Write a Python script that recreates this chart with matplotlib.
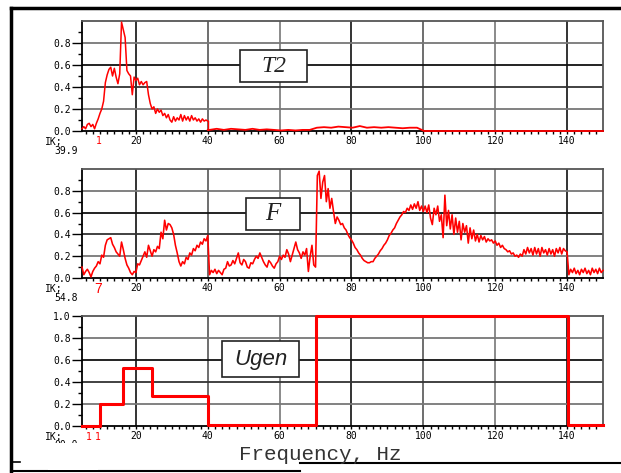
import numpy as np
import matplotlib.pyplot as plt
from matplotlib.lines import Line2D
from matplotlib.patches import Rectangle

W, H = 621, 473  # pixel size of the picture

# ---- data ----
# T2: fine part 5..40 Hz every 0.5 Hz
t2_f = np.arange(5.0, 40.01, 0.5)
t2_v = [0.02, 0.04, 0.02, 0.06, 0.07, 0.04, 0.06, 0.02, 0.07, 0.11,
        0.16, 0.20, 0.27, 0.44, 0.51, 0.56, 0.58, 0.50, 0.57, 0.49,
        0.43, 0.52, 0.99, 0.92, 0.85, 0.55, 0.52, 0.50, 0.33, 0.49,
        0.46, 0.48, 0.42, 0.45, 0.42, 0.44, 0.45, 0.33, 0.25, 0.20,
        0.22, 0.16, 0.20, 0.17, 0.19, 0.14, 0.16, 0.12, 0.15, 0.10,
        0.08, 0.13, 0.09, 0.12, 0.10, 0.15, 0.09, 0.14, 0.10, 0.13,
        0.09, 0.14, 0.10, 0.12, 0.09, 0.11, 0.08, 0.11, 0.09, 0.10,
        0.09]
# T2: coarse part 40.5..150 Hz
t2_tail_f = np.linspace(40.5, 150.0, 56)
t2_tail_v = [0.01, 0.02, 0.01, 0.02, 0.015, 0.01, 0.02, 0.01, 0.015, 0.01,
             0.005, 0.01, 0.005, 0.01, 0.01,
             0.03, 0.035, 0.03, 0.04, 0.035, 0.03, 0.045, 0.03, 0.035, 0.03,
             0.035, 0.03, 0.025, 0.03, 0.03,
             0.0, 0.0, 0.0, 0.0, 0.0, 0.0, 0.0, 0.0, 0.0, 0.0,
             0.0, 0.0, 0.0, 0.0, 0.0, 0.0, 0.0, 0.0, 0.0, 0.0,
             0.0, 0.0, 0.0, 0.0, 0.0, 0.0]

# F: 5..150 Hz every 0.5 Hz
f_f = np.arange(5.0, 150.01, 0.5)
f_v = [0.10, 0.03, 0.06, 0.08, 0.05, 0.01, 0.06, 0.09, 0.11, 0.15,
       0.13, 0.21, 0.19, 0.30, 0.35, 0.36, 0.37, 0.31, 0.28, 0.24,
       0.22, 0.20, 0.33, 0.26, 0.18, 0.12, 0.09, 0.05, 0.03, 0.06,
       0.05, 0.13, 0.12, 0.16, 0.20, 0.24, 0.19, 0.30, 0.25, 0.20,
       0.26, 0.24, 0.29, 0.27, 0.42, 0.36, 0.53, 0.44, 0.50, 0.49,
       0.46, 0.40, 0.30, 0.23, 0.15, 0.11, 0.15, 0.13, 0.19, 0.17,
       0.23, 0.21, 0.27, 0.25, 0.30, 0.28, 0.33, 0.31, 0.36, 0.34,
       0.39, 0.03, 0.07, 0.05, 0.08, 0.04, 0.07, 0.05, 0.03, 0.08,
       0.09, 0.15, 0.11, 0.12, 0.16, 0.13, 0.18, 0.23, 0.14, 0.12,
       0.17, 0.15, 0.10, 0.09, 0.14, 0.13, 0.17, 0.20, 0.18, 0.23,
       0.19, 0.15, 0.12, 0.10, 0.16, 0.14, 0.11, 0.09, 0.13, 0.15,
       0.20, 0.17, 0.21, 0.19, 0.26, 0.22, 0.15, 0.21, 0.27, 0.33,
       0.26, 0.23, 0.18, 0.24, 0.21, 0.27, 0.06, 0.20, 0.30, 0.12,
       0.10, 0.94, 0.98, 0.73, 0.88, 0.94, 0.70, 0.82, 0.64, 0.73,
       0.61, 0.50, 0.56, 0.53, 0.49, 0.50, 0.46, 0.44, 0.40, 0.37,
       0.35, 0.32, 0.28, 0.26, 0.23, 0.21, 0.18, 0.16, 0.15, 0.14,
       0.14, 0.15, 0.15, 0.18, 0.20, 0.22, 0.25, 0.27, 0.30, 0.32,
       0.35, 0.39, 0.41, 0.44, 0.46, 0.50, 0.53, 0.56, 0.58, 0.61,
       0.60, 0.64, 0.62, 0.67, 0.63, 0.68, 0.64, 0.70, 0.62, 0.66,
       0.61, 0.66, 0.60, 0.67, 0.55, 0.49, 0.64, 0.58, 0.66, 0.52,
       0.58, 0.37, 0.76, 0.48, 0.62, 0.45, 0.58, 0.40, 0.55, 0.42,
       0.52, 0.35, 0.50, 0.42, 0.48, 0.32, 0.46, 0.36, 0.44, 0.34,
       0.40, 0.33, 0.39, 0.35, 0.38, 0.33, 0.36, 0.34, 0.35, 0.32,
       0.34, 0.30, 0.32, 0.28, 0.30, 0.27, 0.26, 0.24, 0.25, 0.22,
       0.23, 0.20, 0.21, 0.19, 0.22, 0.20, 0.26, 0.22, 0.28, 0.23,
       0.27, 0.21, 0.28, 0.22, 0.27, 0.20, 0.28, 0.23, 0.26, 0.21,
       0.27, 0.22, 0.26, 0.20, 0.27, 0.23, 0.28, 0.22, 0.27, 0.25,
       0.24, 0.03, 0.08, 0.05, 0.09, 0.04, 0.07, 0.03, 0.08, 0.05,
       0.09, 0.04, 0.07, 0.03, 0.09, 0.05, 0.08, 0.04, 0.09, 0.05,
       0.07]

# Ugen: step levels between edges
ugen_edges = [5, 10, 16.3, 24.5, 40, 70.1, 140.2, 150]
ugen_levels = [0.0, 0.2, 0.53, 0.27, 0.01, 1.0, 0.01]

xticks = [20, 40, 60, 80, 100, 120, 140]
yticks = [0.0, 0.2, 0.4, 0.6, 0.8]
yticks3 = [0.0, 0.2, 0.4, 0.6, 0.8, 1.0]

mono = 'DejaVu Sans Mono'


def fx(x):
    return x / W


def fy(y):
    return 1 - y / H


fig = plt.figure(figsize=(W / 100, H / 100), dpi=100)

# axes boxes in pixels: top, bottom
rows = [(21, 131), (169, 278), (316, 426)]
axs = []
for top, bot in rows:
    ax = fig.add_axes([fx(82), fy(bot), (603 - 82) / W, (bot - top) / H])
    axs.append(ax)

for i, ax in enumerate(axs):
    ax.set_xlim(5, 150)
    ax.set_ylim(0, 1)
    for k, xv in enumerate(xticks):
        ax.axvline(xv, color=['#111', '#555', '#777', '#111', '#555', '#777', '#111'][k], lw=1.2, zorder=1)
    for k, yv in enumerate([0.2, 0.4, 0.6, 0.8]):
        ax.axhline(yv, color=['#777', '#333', '#111', '#777'][k], lw=1.3, zorder=1)
    ax.set_xticks(xticks)
    ax.set_xticks(np.arange(6, 150, 2), minor=True)
    yt = yticks3 if i == 2 else yticks
    ax.set_yticks(yt)
    ax.set_yticklabels(['%.1f' % v for v in yt])
    ax.set_yticks(np.arange(0.1, 1.0, 0.2), minor=True)
    ax.tick_params(axis='y', which='major', length=7, width=1, direction='out', pad=1,
                   labelsize=7, labelfontfamily=mono)
    ax.tick_params(axis='y', which='minor', length=3, width=1)
    ax.tick_params(axis='x', which='both', length=2.5, width=1, direction='out', pad=1,
                   labelsize=7, labelfontfamily=mono)
    for s in ['left', 'bottom']:
        ax.spines[s].set_color('black')
        ax.spines[s].set_linewidth(1.3)
    for s in ['top', 'right']:
        ax.spines[s].set_color('#555')
        ax.spines[s].set_linewidth(1.3)

# curves
axs[0].plot(t2_f, t2_v, color='red', lw=1.1, zorder=3, clip_on=False)
axs[0].plot(np.r_[t2_f[-1], t2_tail_f], np.r_[0.01, t2_tail_v], color='red', lw=1.3, zorder=3, clip_on=False)
axs[0].plot([40, 40], [t2_v[-1], 0.01], color='red', lw=1, zorder=3)
axs[1].plot(f_f, f_v, color='red', lw=1.15, zorder=3, clip_on=False)
axs[2].step(ugen_edges, ugen_levels + [ugen_levels[-1]], where='post', color='red', lw=2.2,
            zorder=3, clip_on=False)

# title boxes (pixel centers and sizes)
boxes = [('T2', 273.5, 66, 67, 32, 'Liberation Serif', 17),
         ('F', 273, 214, 54, 32, 'Liberation Serif', 18),
         ('Ugen', 260.5, 359, 77, 36, 'Liberation Sans', 16)]
for txt, cx, cy, bw, bh, fam, size in boxes:
    fig.patches.append(Rectangle((fx(cx - bw / 2), fy(cy + bh / 2)), bw / W, bh / H,
                                 transform=fig.transFigure, facecolor='white',
                                 edgecolor='#222', lw=1.2, zorder=5))
    fig.text(fx(cx), fy(cy), txt, family=fam, style='italic', size=size,
             ha='center', va='center', color='#222', zorder=6)

# small labels under each panel
small = dict(family=mono, size=7, color='black', va='center', ha='left')
fig.text(fx(45), fy(142), 'IK;', **small)
fig.text(fx(54), fy(151), '39.9', **small)
fig.text(fx(96), fy(141), '1', family=mono, size=7, color='red', va='center', ha='left')
fig.text(fx(45), fy(289), 'IK;', **small)
fig.text(fx(54), fy(298), '54.8', **small)
fig.text(fx(94), fy(289), '7', family='Liberation Sans', size=10, color='red', va='center', ha='left')
fig.text(fx(45), fy(437), 'IK:', **small)
fig.text(fx(54), fy(445), '00.0', **small)
fig.patches.append(Rectangle((fx(48), fy(470)), 50 / W, 27 / H, transform=fig.transFigure,
                             facecolor='white', edgecolor='none', zorder=4))
fig.text(fx(86), fy(437), '1', family=mono, size=7, color='red', va='center', ha='left')
fig.text(fx(95), fy(437), '1', family=mono, size=7, color='red', va='center', ha='left')

# x label
fig.text(fx(320), fy(460), 'Frequency, Hz', family='Liberation Mono', size=15,
         ha='center', va='baseline', color='#333')

# outer frame
fig.lines.append(Line2D([fx(11), fx(621)], [fy(8), fy(8)], transform=fig.transFigure, color='black', lw=2.5))
fig.lines.append(Line2D([fx(11), fx(11)], [fy(8), fy(473)], transform=fig.transFigure, color='black', lw=2.5))
fig.lines.append(Line2D([fx(11), fx(300)], [fy(471), fy(471)], transform=fig.transFigure, color='black', lw=1.5))
fig.lines.append(Line2D([fx(300), fx(621)], [fy(463), fy(463)], transform=fig.transFigure, color='black', lw=1.5))
fig.lines.append(Line2D([fx(12), fx(20)], [fy(462), fy(462)], transform=fig.transFigure, color='black', lw=1.2))

fig.savefig('out.png', dpi=100)
